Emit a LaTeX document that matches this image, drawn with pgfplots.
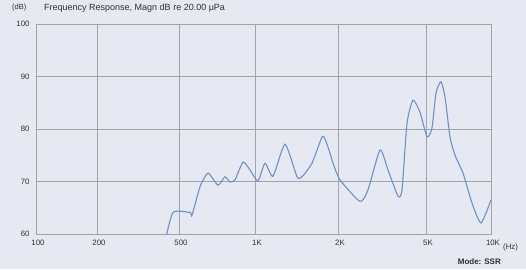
\documentclass[border=0pt]{standalone}
\usepackage{pgfplots}
\pgfplotsset{compat=1.18}
\usepackage{fontspec}
\setmainfont{Liberation Sans}
\definecolor{bg}{HTML}{E6E9F1}
\definecolor{gridc}{HTML}{A2A4AC}
\definecolor{curve}{HTML}{7090C4}
\definecolor{txt}{HTML}{303030}
\begin{document}
\begin{tikzpicture}[x=1pt,y=1pt]
\fill[bg] (0,0) rectangle (526,269);
\useasboundingbox (0,0) rectangle (526,269);
\begin{axis}[
  at={(36pt,35pt)}, anchor=south west,
  scale only axis, width=455pt, height=210pt,
  xmin=0, xmax=455, ymin=60, ymax=100,
  axis background/.style={fill=bg},
  axis line style={gridc, line width=0.9pt},
  xtick={0,61,143,219,302,390,455},
  xticklabels={100,200,500,1K,2K,5K,10K},
  ytick={60,70,80,90,100},
  major tick length=0pt,
  grid=major,
  major grid style={gridc, line width=0.6pt},
  tick label style={font=\fontsize{7.8}{8}\selectfont, text=txt},
  xticklabel style={yshift=-3pt, xshift=2pt},
  yticklabel style={xshift=-3pt},
  /pgf/number format/assume math mode=true,
]
\addplot[curve, line width=1.1pt, smooth, tension=0.35] coordinates {
(129,58.5) (137,64.1) (154,64.1) (156,63.6) (164,69.0) (172,71.6) (182,69.3)
(189,70.9) (194,69.9) (199,70.3) (207,73.7) (214,72.2) (222,70.1) (229,73.5)
(237,71.0) (249,77.1) (261,70.9) (266,70.9) (276,73.5) (286,78.5) (289,78.1)
(294,75.4) (297,73.5) (304,70.3) (324,66.2) (332,68.4) (344,76.0) (352,72.2)
(362,67.2) (366,68.4) (371,81.1) (377,85.5) (384,83.2) (391,78.5) (396,80.2)
(400,86.9) (405,89.0) (409,86.1) (414,78.5) (419,75.0) (427,71.6) (436,65.9)
(445,62.1) (455,66.5)};
\end{axis}
\node[anchor=west, text=txt, font=\fontsize{7.5}{8}\selectfont, inner sep=0pt] at (12,261) {(dB)};
\node[anchor=west, text=txt, font=\fontsize{9}{10}\selectfont, inner sep=0pt] at (44,261) {Frequency Response, Magn dB re 20.00 μPa};
\node[anchor=west, text=txt, font=\fontsize{7.8}{8}\selectfont, inner sep=0pt] at (503,21.5) {(Hz)};
\node[anchor=east, text=txt, font=\bfseries\fontsize{8}{9}\selectfont, inner sep=0pt] at (501,7) {Mode: SSR};
\end{tikzpicture}
\end{document}
